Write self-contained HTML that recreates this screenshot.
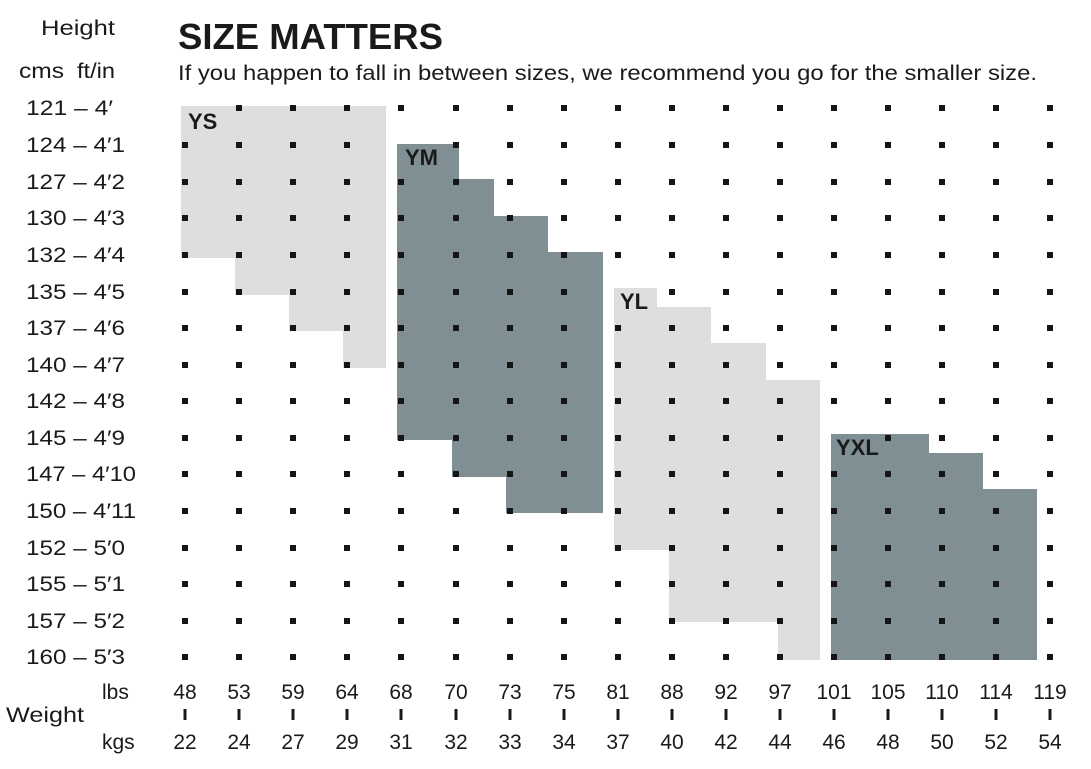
<!DOCTYPE html>
<html><head><meta charset="utf-8"><style>
html,body{margin:0;padding:0;background:#fff;}
svg{display:block;font-family:"Liberation Sans",sans-serif;}
</style></head><body>
<svg id="s" width="1091" height="769" viewBox="0 0 1091 769" xmlns="http://www.w3.org/2000/svg">
<polygon fill="#dcdfdd" points="181,106 386,106 386,368 343,368 343,331 289,331 289,295 235,295 235,258 181,258"/>
<polygon fill="#7f8f94" points="397,144 459,144 459,179 494,179 494,216 548,216 548,252 603,252 603,513 506,513 506,477 452,477 452,440 397,440"/>
<polygon fill="#dcdfdd" points="614,288 657,288 657,307 711,307 711,343 766,343 766,380 820,380 820,660 778,660 778,622 669,622 669,550 614,550"/>
<polygon fill="#7f8f94" points="831,434 929,434 929,453 983,453 983,489 1037,489 1037,660 831,660"/>
<g id="dots" fill="#151515"></g>
<g font-weight="bold" font-size="22" fill="#1a1a1a">
<text x="188" y="129">YS</text>
<text x="405" y="165">YM</text>
<text x="620" y="309">YL</text>
<text x="836" y="455">YXL</text>
</g>
<text x="178" y="49" font-size="36" font-weight="bold" fill="#1a1a1a" textLength="265" lengthAdjust="spacingAndGlyphs">SIZE MATTERS</text>
<text x="178" y="80" font-size="21" fill="#1a1a1a" textLength="859" lengthAdjust="spacingAndGlyphs">If you happen to fall in between sizes, we recommend you go for the smaller size.</text>
<g font-size="21" fill="#1a1a1a">
<text x="41" y="35" textLength="74" lengthAdjust="spacingAndGlyphs">Height</text>
<text x="19" y="78" textLength="45" lengthAdjust="spacingAndGlyphs">cms</text><text x="77" y="78" textLength="38" lengthAdjust="spacingAndGlyphs">ft/in</text>
<g>
<text x="26" y="115" textLength="87" lengthAdjust="spacingAndGlyphs">121 – 4′</text>
<text x="26" y="152" textLength="99" lengthAdjust="spacingAndGlyphs">124 – 4′1</text>
<text x="26" y="189" textLength="99" lengthAdjust="spacingAndGlyphs">127 – 4′2</text>
<text x="26" y="225" textLength="99" lengthAdjust="spacingAndGlyphs">130 – 4′3</text>
<text x="26" y="262" textLength="99" lengthAdjust="spacingAndGlyphs">132 – 4′4</text>
<text x="26" y="299" textLength="99" lengthAdjust="spacingAndGlyphs">135 – 4′5</text>
<text x="26" y="335" textLength="99" lengthAdjust="spacingAndGlyphs">137 – 4′6</text>
<text x="26" y="372" textLength="99" lengthAdjust="spacingAndGlyphs">140 – 4′7</text>
<text x="26" y="408" textLength="99" lengthAdjust="spacingAndGlyphs">142 – 4′8</text>
<text x="26" y="445" textLength="99" lengthAdjust="spacingAndGlyphs">145 – 4′9</text>
<text x="26" y="481" textLength="110" lengthAdjust="spacingAndGlyphs">147 – 4′10</text>
<text x="26" y="518" textLength="110" lengthAdjust="spacingAndGlyphs">150 – 4′11</text>
<text x="26" y="555" textLength="99" lengthAdjust="spacingAndGlyphs">152 – 5′0</text>
<text x="26" y="591" textLength="99" lengthAdjust="spacingAndGlyphs">155 – 5′1</text>
<text x="26" y="628" textLength="99" lengthAdjust="spacingAndGlyphs">157 – 5′2</text>
<text x="26" y="664" textLength="99" lengthAdjust="spacingAndGlyphs">160 – 5′3</text>
</g>
<text x="102" y="699">lbs</text>
<text x="6" y="722" textLength="78" lengthAdjust="spacingAndGlyphs">Weight</text>
<text x="102" y="749">kgs</text>
<g text-anchor="middle">
<text x="185" y="699">48</text><text x="239" y="699">53</text><text x="293" y="699">59</text><text x="347" y="699">64</text><text x="401" y="699">68</text><text x="456" y="699">70</text><text x="510" y="699">73</text><text x="564" y="699">75</text><text x="618" y="699">81</text><text x="672" y="699">88</text><text x="726" y="699">92</text><text x="780" y="699">97</text><text x="834" y="699">101</text><text x="888" y="699">105</text><text x="942" y="699">110</text><text x="996" y="699">114</text><text x="1050" y="699">119</text>
<text x="185" y="749">22</text><text x="239" y="749">24</text><text x="293" y="749">27</text><text x="347" y="749">29</text><text x="401" y="749">31</text><text x="456" y="749">32</text><text x="510" y="749">33</text><text x="564" y="749">34</text><text x="618" y="749">37</text><text x="672" y="749">40</text><text x="726" y="749">42</text><text x="780" y="749">44</text><text x="834" y="749">46</text><text x="888" y="749">48</text><text x="942" y="749">50</text><text x="996" y="749">52</text><text x="1050" y="749">54</text>
</g>
</g>
<g id="ticks" fill="#1a1a1a"></g>
</svg>
<script>
var xs=[185,239,293,347,401,456,510,564,618,672,726,780,834,888,942,996,1050];
var ys=[108,145,182,218,255,292,328,365,401,438,474,511,548,584,621,657];
var skip={"185,108":1,"401,145":1,"618,292":1,"834,438":1};
var d=document.getElementById('dots'),t=document.getElementById('ticks'),ns="http://www.w3.org/2000/svg";
ys.forEach(function(y){xs.forEach(function(x){if(skip[x+","+y])return;var r=document.createElementNS(ns,'rect');r.setAttribute('x',x-3);r.setAttribute('y',y-3);r.setAttribute('width',6);r.setAttribute('height',6);d.appendChild(r);});});
xs.forEach(function(x){var r=document.createElementNS(ns,'rect');r.setAttribute('x',x-1.5);r.setAttribute('y',709);r.setAttribute('width',3);r.setAttribute('height',11);t.appendChild(r);});
</script>
</body></html>
